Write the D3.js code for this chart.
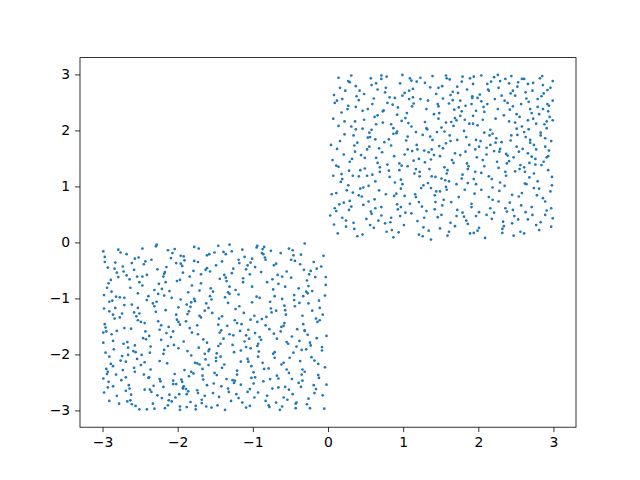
<!DOCTYPE html>
<html>
<head>
<meta charset="utf-8">
<script src="https://cdn.jsdelivr.net/npm/d3@7"></script>
<style>
  body { margin: 0; background: #fff; }
  svg { display: block; }
  .tick text { font-family: "DejaVu Sans", sans-serif; font-size: 13.9px; fill: #000; }
  .tick line { stroke: #000; stroke-width: 0.8; }
</style>
</head>
<body>
<div id="viz"></div>
<script>
const POINT_COLOR = "#1f77b4";

// Tick values for both axes
const xTicks = [-3, -2, -1, 0, 1, 2, 3];
const yTicks = [-3, -2, -1, 0, 1, 2, 3];

// Points in the lower-left square as [x, y]
const lowerPoints = [
  [-2.53,-1.17],[-0.42,-2.86],[-1.78,-0.33],[-2.91,-2.04],[-0.97,-1.62],[-1.24,-2.47],[-2.16,-0.71],[-0.08,-1.93],[-1.55,-2.95],[-2.72,-0.52],
  [-0.63,-0.19],[-1.89,-1.41],[-2.37,-2.63],[-0.29,-0.88],[-1.02,-2.21],[-2.84,-1.36],[-1.46,-0.06],[-0.81,-2.74],[-2.05,-1.83],[-1.67,-2.38],
  [-2.98,-0.94],[-0.15,-0.47],[-1.33,-1.08],[-2.61,-2.89],[-0.56,-1.29],[-1.92,-0.25],[-2.24,-2.12],[-0.74,-0.66],[-1.11,-1.77],[-2.45,-0.39],
  [-0.36,-2.58],[-1.59,-1.94],[-2.79,-0.13],[-0.91,-0.99],[-1.73,-2.69],[-2.12,-1.51],[-0.22,-2.05],[-1.38,-0.58],[-2.57,-2.31],[-0.68,-1.72],
  [-1.97,-2.93],[-2.88,-1.64],[-0.49,-0.31],[-1.16,-2.54],[-2.31,-0.85],[-0.05,-2.97],[-1.64,-1.22],[-2.69,-2.41],[-0.87,-0.12],[-1.42,-1.57],
  [-2.21,-2.78],[-0.33,-1.46],[-1.81,-0.77],[-2.95,-2.26],[-1.07,-0.41],[-0.59,-2.15],[-2.41,-1.03],[-1.29,-2.83],[-0.17,-0.62],[-2.66,-1.88],
  [-1.51,-0.18],[-0.77,-2.44],[-2.09,-1.69],[-2.83,-0.36],[-0.44,-1.14],[-1.86,-2.66],[-1.19,-0.93],[-2.48,-2.01],[-0.26,-2.79],[-1.63,-0.49],
  [-2.74,-1.27],[-0.94,-1.85],[-1.37,-2.99],[-2.18,-0.56],[-0.11,-1.39],[-1.71,-2.18],[-2.52,-0.27],[-0.66,-0.74],[-1.94,-2.49],[-2.99,-1.79],
  [-0.52,-2.33],[-1.26,-1.66],[-2.33,-2.88],[-0.85,-0.08],[-1.48,-1.98],[-2.63,-0.81],[-0.31,-1.58],[-1.99,-1.16],[-2.86,-2.57],[-1.04,-2.62],
  [-0.19,-0.35],[-1.76,-2.92],[-2.44,-1.44],[-0.71,-2.06],[-1.13,-0.64],[-2.27,-2.73],[-0.98,-1.31],[-1.58,-0.21],[-2.77,-0.98],[-0.39,-2.51],
  [-1.84,-1.53],[-2.93,-0.45],[-0.61,-1.01],[-1.21,-2.29],[-2.13,-0.14],[-0.02,-1.67],[-1.45,-2.76],[-2.56,-1.96],[-0.89,-0.53],[-1.69,-1.34],
  [-2.39,-2.42],[-0.46,-0.23],[-1.93,-2.59],[-2.71,-1.12],[-1.09,-1.87],[-0.24,-2.96],[-2.01,-0.69],[-1.34,-1.49],[-2.89,-2.17],[-0.79,-2.25],
  [-1.57,-0.96],[-2.22,-1.74],[-0.13,-2.37],[-1.01,-0.29],[-2.67,-2.84],[-0.57,-1.21],[-1.82,-2.02],[-2.47,-0.61],[-0.93,-2.68],[-1.31,-0.04],
  [-2.96,-1.52],[-0.35,-1.92],[-1.66,-2.45],[-2.11,-0.87],[-0.72,-1.63],[-1.47,-2.91],[-2.58,-1.25],[-0.09,-0.43],[-1.88,-1.11],[-2.32,-2.56],
  [-1.18,-0.37],[-0.54,-2.81],[-2.76,-2.11],[-1.61,-1.79],[-0.27,-0.91],[-2.04,-2.35],[-1.39,-0.17],[-2.92,-0.73],[-0.83,-1.48],[-1.74,-2.64],
  [-2.28,-1.06],[-0.67,-0.58],[-1.06,-2.13],[-2.51,-2.98],[-0.38,-1.76],[-1.91,-0.32],[-2.85,-1.91],[-1.23,-1.19],[-0.04,-2.23],[-2.15,-0.44],
  [-1.52,-2.52],[-0.88,-1.37],[-2.64,-0.66],[-1.98,-2.71],[-0.47,-0.14],[-1.27,-1.83],[-2.36,-2.27],[-0.73,-0.84],[-2.97,-0.26],[-1.62,-1.09],
  [-0.21,-1.22],[-2.43,-1.59],[-1.14,-2.86],[-0.62,-2.18],[-2.81,-2.74],[-1.79,-0.51],[-0.95,-0.97],[-2.19,-1.99],[-1.35,-2.44],[-0.31,-0.02],
  [-2.68,-0.59],[-1.44,-1.61],[-0.16,-2.62],[-2.26,-0.92],[-1.87,-1.28],[-0.78,-2.94],[-2.54,-2.08],[-1.09,-0.48],[-0.53,-1.81],[-2.02,-2.53],
  [-1.72,-0.11],[-2.94,-2.35],[-0.41,-1.55],[-1.31,-0.79],[-2.46,-1.71],[-0.99,-2.32],[-1.68,-2.87],[-2.83,-1.17],[-0.28,-0.68],[-2.07,-0.19],
  [-0.64,-2.99],[-1.43,-2.04],[-2.61,-0.37],[-1.97,-1.47],[-0.12,-1.04],[-2.35,-2.67],[-1.17,-1.58],[-0.84,-0.27],[-2.75,-2.46],[-1.53,-0.88],
  [-2.12,-2.82],[-0.37,-2.12],[-1.83,-1.15],[-2.99,-0.16],[-0.92,-1.95],[-1.28,-0.55],[-2.49,-1.42],[-0.57,-2.58],[-1.66,-1.73],[-2.21,-0.83],
  [-0.07,-2.73],[-1.94,-0.42],[-2.72,-1.81],[-1.41,-2.24],[-0.76,-1.18],[-2.29,-0.07],[-1.04,-2.92],[-2.87,-1.04],[-0.45,-0.94],[-1.77,-2.15],
  [-2.55,-1.32],[-0.23,-1.84],[-1.36,-0.63],[-2.03,-2.77],[-0.69,-0.38],[-1.81,-1.61],[-2.93,-2.31],[-1.12,-1.26],[-0.34,-2.47],[-2.41,-0.58],
  [-1.49,-2.06],[-0.81,-0.71],[-2.65,-2.55],[-1.96,-0.24],[-0.14,-1.42],[-1.22,-2.71],[-2.38,-1.67],[-0.58,-1.13],[-1.73,-0.35],[-2.78,-2.88],
  [-0.97,-2.41],[-2.16,-1.21],[-1.56,-0.82],[-0.43,-2.96],[-2.84,-0.47],[-1.05,-1.72],[-0.25,-0.57],[-1.91,-2.28],[-2.53,-0.91],[-0.71,-1.96],
  [-1.33,-2.61],[-2.62,-1.54],[-0.03,-0.76],[-1.78,-1.01],[-2.23,-2.48],[-0.86,-0.21],[-1.62,-2.93],[-2.97,-1.46],[-0.48,-1.68],[-1.19,-0.31],
  [-2.44,-2.14],[-0.32,-0.49],[-1.85,-2.39],[-2.08,-0.99],[-0.66,-2.43],[-1.45,-1.36],[-2.79,-0.62],[-0.18,-2.11],[-1.03,-1.89],[-2.31,-2.97],
  [-1.69,-0.73],[-0.55,-1.78],[-2.91,-1.23],[-1.25,-2.51],[-0.95,-0.09],[-2.18,-1.92],[-1.59,-2.19],[-0.38,-1.08],[-2.69,-2.65],[-1.93,-0.54],
  [-0.83,-2.83],[-2.57,-0.29],[-1.15,-1.46],[-0.02,-2.54],[-1.99,-1.89],[-2.86,-2.21],[-0.61,-0.61],[-1.37,-0.98],[-2.24,-1.56],[-0.29,-1.91],
  [-1.88,-2.71],[-2.47,-0.77],[-0.75,-1.25],[-1.51,-2.33],[-2.95,-1.59],[-0.44,-0.33],[-1.07,-2.08],[-2.13,-2.91],[-1.71,-1.31],[-0.21,-0.87],
  [-2.67,-1.78],[-1.28,-0.16],[-0.52,-2.63],[-2.01,-1.38],[-0.89,-1.74],[-1.61,-0.46],[-2.38,-2.41],[-0.11,-1.17],[-1.97,-2.99],[-2.82,-0.97],
  [-1.16,-1.93],[-0.34,-2.27],[-2.17,-0.53],[-1.46,-1.85],[-0.69,-2.86],[-2.74,-2.03],[-1.82,-1.07],[-0.97,-0.44],[-2.51,-1.27],[-0.06,-0.24],
  [-1.42,-2.57],[-2.89,-0.67],[-0.59,-1.49],[-1.74,-2.16],[-2.28,-0.04],[-1.01,-0.79],[-0.43,-2.88],[-2.59,-1.94],[-1.24,-1.39],[-1.89,-2.62],
  [-0.76,-0.15],[-2.06,-2.47],[-1.54,-1.26],[-2.98,-2.68],[-0.27,-1.65],[-1.35,-0.69],[-2.42,-1.73],[-0.85,-2.26],[-1.96,-0.38],[-2.63,-2.82],
  [-0.16,-1.36],[-1.64,-2.74],[-2.33,-1.09],[-1.11,-0.26],[-0.51,-2.06],[-2.77,-1.34],[-1.86,-0.89],[-0.73,-1.99],[-2.19,-2.58],[-1.39,-1.72],
  [-2.94,-0.81],[-0.99,-2.52],[-1.69,-0.57],[-0.33,-0.96],[-2.56,-2.92],[-1.21,-1.44],[-2.09,-0.28],[-0.62,-1.51],[-1.48,-2.37],[-2.73,-0.43],
  [-0.91,-1.69],[-1.77,-1.05],[-2.49,-2.19],[-0.08,-1.87],[-1.32,-2.67],[-2.25,-0.74],[-0.55,-0.52],[-1.95,-2.45],[-2.81,-1.58],[-1.03,-0.36],
  [-2.36,-1.86],[-0.47,-2.71],[-1.58,-1.91],[-2.04,-0.12],[-0.82,-1.33],[-2.92,-2.49],[-1.19,-2.78],[-0.26,-0.78],[-1.73,-1.64],[-2.61,-1.11],
  [-1.44,-0.65],[-0.68,-2.38],[-2.15,-1.62],[-1.83,-2.85],[-0.36,-0.22],[-2.71,-0.99],[-1.06,-1.56],[-1.63,-2.09],[-2.45,-2.36],[-0.13,-2.17],
  [-2.02,-1.29],[-0.94,-0.06],[-1.38,-2.18],[-2.86,-1.76],[-0.58,-1.44],[-1.92,-2.57],[-2.27,-0.48],[-0.79,-2.91],[-1.23,-0.85],[-2.58,-2.24],
  [-0.45,-1.03],[-1.79,-2.34],[-2.98,-1.18],[-1.09,-1.66],[-0.18,-2.69],[-2.43,-0.34],[-1.55,-1.02],[-0.72,-0.41],[-2.11,-2.72],[-1.27,-2.46],
  [-2.76,-0.18],[-0.31,-1.57],[-1.68,-2.81],[-2.22,-1.48],[-0.87,-2.15],[-1.49,-0.41],[-2.64,-2.61],[-0.04,-0.95],[-1.99,-1.42],[-1.14,-0.13],
  [-0.66,-2.59],[-2.37,-1.97],[-1.31,-0.92],[-2.91,-2.83],[-0.49,-0.63],[-1.85,-1.23],[-1.02,-2.42],[-2.54,-0.61],[-0.24,-1.79],[-1.76,-2.98],
  [-2.18,-0.95],[-0.93,-1.81],[-1.41,-1.32],[-2.69,-2.13],[-0.35,-2.36],[-1.61,-0.23],[-2.99,-1.61],[-0.77,-1.06],[-2.06,-2.53],[-1.26,-0.47],
  [-2.47,-0.11],[-0.12,-2.42],[-1.87,-1.94],[-1.04,-0.57],[-2.82,-2.36],[-0.63,-1.59],[-1.53,-2.69],[-2.26,-1.41],[-0.39,-0.82],[-1.97,-0.67],
  [-2.62,-2.72],[-1.18,-1.14],[-0.28,-2.89],[-1.71,-0.86],[-2.96,-1.97],[-0.83,-0.31],[-2.14,-2.16],[-1.43,-1.81],[-0.55,-2.27],[-2.35,-0.31],
  [-1.09,-2.95],[-2.71,-1.53],[-0.07,-1.29],[-1.61,-2.55],[-2.19,-0.61],[-0.94,-1.42],[-1.36,-0.21],[-2.88,-0.88],[-0.46,-1.97],[-1.82,-2.31],
  [-2.41,-2.98],[-0.71,-0.96],[-1.25,-1.96],[-2.02,-0.37],[-0.19,-2.55],[-1.59,-1.17],[-2.57,-1.84],[-0.98,-2.77],[-1.78,-0.08],[-2.93,-2.59],
  [-0.34,-1.31],[-1.49,-2.12],[-2.29,-1.24],[-0.86,-2.48],[-2.68,-0.21],[-1.13,-0.71],[-0.52,-0.11],[-1.92,-1.77],[-2.44,-2.63],[-0.23,-0.51],
  [-1.67,-2.26],[-2.81,-0.54],[-0.61,-2.93],[-1.31,-1.64],[-2.08,-2.84],[-0.42,-1.86],[-2.53,-1.39],[-1.01,-1.07],[-1.84,-0.61],[-2.99,-2.43],
  [-0.15,-1.71],[-1.41,-0.34],[-2.24,-2.44],[-0.78,-1.55],[-1.96,-1.02],[-2.66,-2.01],[-1.21,-2.36],[-0.57,-0.79],[-2.39,-0.96],[-1.74,-1.48],
  [-0.93,-2.04],[-2.86,-1.29],[-1.57,-0.52],[-0.31,-2.31],[-2.13,-1.85],[-1.07,-2.67],[-2.51,-0.71],[-0.69,-1.22],[-1.88,-2.94],[-0.03,-0.62],
  [-2.73,-2.28],[-1.33,-0.89],[-0.48,-2.44],[-2.06,-1.59],[-1.64,-1.99],[-2.97,-0.35],[-0.88,-0.19],[-1.16,-2.13],[-2.31,-1.14],[-0.26,-1.09],
  [-1.93,-2.61],[-2.58,-0.49],[-0.74,-2.61],[-1.46,-1.47],[-2.17,-2.96],[-0.37,-0.39],[-1.72,-1.88],[-2.91,-1.06],[-1.03,-1.38],[-0.59,-2.77]
];

// Points in the upper-right square as [x, y]
const upperPoints = [
  [0.42,2.71],[1.86,0.33],[2.54,1.62],[0.17,1.08],[1.23,2.94],[2.91,0.57],[0.78,0.19],[1.57,1.77],[2.26,2.38],[0.95,1.41],
  [2.73,2.85],[0.31,0.64],[1.44,0.91],[2.08,1.96],[0.66,2.27],[1.92,2.61],[2.47,0.12],[0.09,2.49],[1.15,1.23],[2.84,1.38],
  [0.53,1.87],[1.71,0.47],[2.36,2.92],[0.88,0.83],[1.29,2.15],[2.62,1.05],[0.24,0.28],[1.98,1.52],[2.95,2.24],[0.71,2.98],
  [1.37,0.05],[2.19,0.76],[0.12,1.67],[1.83,2.44],[2.58,2.07],[0.47,0.98],[1.06,1.89],[2.77,0.31],[0.99,2.62],[1.64,0.72],
  [2.41,1.45],[0.36,2.16],[1.52,2.79],[2.89,1.86],[0.81,1.28],[1.19,0.38],[2.13,2.73],[0.58,0.51],[1.78,1.14],[2.67,2.51],
  [0.05,0.86],[1.41,1.56],[2.32,0.24],[0.93,2.41],[1.67,2.08],[2.98,1.17],[0.27,2.88],[1.09,0.69],[2.51,1.71],[1.94,0.17],
  [0.64,1.51],[2.71,2.31],[1.33,2.53],[0.19,0.44],[2.04,1.24],[1.58,0.94],[0.87,2.04],[2.44,2.97],[1.12,1.63],[2.86,0.79],
  [0.39,0.11],[1.76,2.26],[2.27,1.33],[0.75,1.79],[1.49,0.25],[2.63,2.68],[0.14,1.35],[1.91,0.63],[0.96,2.84],[2.15,1.91],
  [1.27,1.02],[2.53,0.41],[0.61,2.57],[1.85,1.41],[2.92,2.47],[0.33,1.19],[1.03,0.53],[2.39,1.55],[1.62,2.91],[0.83,0.36],
  [2.06,2.19],[0.22,1.93],[1.39,1.83],[2.81,0.96],[0.54,0.73],[1.73,2.67],[2.49,1.27],[0.97,1.12],[1.21,0.14],[2.67,2.02],
  [0.46,2.35],[1.95,0.87],[2.22,2.56],[0.11,0.56],[1.55,1.34],[2.96,2.76],[0.72,1.61],[1.31,2.38],[2.57,0.66],[1.81,1.99],
  [0.29,1.44],[2.43,1.82],[1.08,2.71],[2.76,1.49],[0.85,0.22],[1.61,1.09],[2.11,0.49],[0.58,2.01],[1.46,2.47],[2.88,2.11],
  [1.17,0.81],[0.07,2.21],[1.89,2.93],[2.35,1.01],[0.69,1.26],[2.61,0.16],[1.42,0.59],[0.37,2.79],[2.01,1.71],[2.93,1.54],
  [0.91,1.95],[1.69,0.29],[2.55,2.24],[0.25,0.93],[1.13,2.59],[2.21,1.63],[0.51,0.42],[1.97,2.35],[2.82,2.93],[1.35,1.31],
  [2.45,0.85],[0.76,2.68],[1.53,1.68],[2.99,0.43],[0.16,1.81],[1.24,0.97],[2.17,2.87],[0.63,1.09],[1.79,0.53],[2.69,1.78],
  [0.34,0.35],[1.88,2.12],[2.31,2.62],[1.02,1.57],[0.57,2.93],[2.74,1.23],[1.47,2.21],[0.21,0.71],[2.09,0.08],[1.66,2.54],
  [2.86,2.38],[0.93,0.59],[1.18,1.74],[2.52,1.92],[0.44,1.56],[1.74,0.81],[2.25,1.44],[0.08,2.63],[1.36,2.77],[2.97,0.28],
  [0.68,0.93],[2.12,2.47],[1.59,0.12],[0.31,2.07],[2.66,2.83],[1.05,2.31],[1.96,1.26],[2.38,0.55],[0.84,1.73],[1.28,0.44],
  [2.59,1.67],[0.13,0.16],[1.51,2.05],[2.91,2.16],[0.79,2.49],[1.83,1.62],[2.28,0.92],[0.49,1.32],[1.11,2.89],[2.71,0.63],
  [1.65,1.47],[0.38,2.61],[2.46,2.71],[1.01,0.31],[2.03,1.81],[0.62,0.77],[1.43,1.17],[2.83,1.96],[0.18,1.22],[1.93,2.83],
  [2.33,0.37],[0.98,1.37],[1.71,2.18],[2.64,2.57],[0.56,1.88],[1.25,0.64],[2.18,1.13],[0.03,0.48],[1.57,2.98],[2.94,1.64],
  [0.87,0.09],[2.51,2.29],[1.37,1.48],[0.27,2.44],[1.84,0.39],[2.79,1.09],[1.07,2.13],[2.14,2.71],[0.66,1.42],[1.62,1.91],
  [2.42,0.71],[0.45,0.82],[1.99,2.58],[2.87,2.66],[1.19,1.66],[0.74,2.36],[2.24,1.86],[1.54,0.76],[0.14,2.94],[2.68,1.42],
  [1.31,2.04],[2.56,0.19],[0.35,1.73],[1.79,1.21],[2.99,2.53],[0.92,0.68],[2.07,2.42],[1.44,2.65],[0.61,0.26],[2.37,1.58],
  [1.72,0.58],[0.19,1.13],[2.61,1.97],[1.14,2.48],[2.29,2.88],[0.52,1.66],[1.87,1.36],[2.78,0.84],[0.98,2.17],[1.49,0.91],
  [2.16,2.01],[0.71,0.48],[1.26,1.92],[2.93,1.29],[0.41,2.54],[1.68,2.37],[2.48,0.47],[0.06,1.47],[1.94,2.96],[2.73,2.21],
  [0.82,1.17],[1.46,0.45],[2.23,1.78],[0.28,0.58],[1.97,1.04],[2.84,2.61],[1.09,2.93],[0.64,2.11],[2.55,1.31],[1.38,1.66],
  [2.01,0.26],[0.55,1.96],[1.76,2.53],[2.46,2.43],[0.97,0.63],[2.89,0.73],[1.21,1.49],[0.23,2.71],[1.63,0.35],[2.34,2.27],
  [0.73,2.34],[2.68,1.16],[1.34,0.21],[0.11,1.37],[2.12,2.83],[1.55,1.98],[2.77,2.12],[0.88,1.54],[1.91,0.69],[0.43,0.96],
  [2.52,2.78],[1.22,1.26],[0.35,0.24],[1.69,1.59],[2.97,1.81],[0.77,2.76],[2.19,0.98],[1.47,2.43],[0.59,1.21],[2.63,0.54],
  [1.04,1.82],[2.43,2.66],[0.18,2.32],[1.82,0.94],[2.71,1.53],[0.67,0.39],[1.29,2.85],[2.06,1.47],[0.48,2.19],[1.59,1.29],
  [2.91,2.04],[0.94,0.18],[1.63,2.63],[2.27,0.73],[0.32,1.49],[1.93,2.26],[2.56,1.38],[1.16,0.86],[0.78,2.96],[2.39,2.49],
  [0.15,0.68],[1.48,1.72],[2.83,0.36],[0.69,1.34],[2.04,2.52],[1.32,2.02],[2.61,2.92],[0.46,0.14],[1.72,1.83],[2.98,1.02],
  [1.11,0.52],[2.29,1.67],[0.86,2.46],[1.57,0.99],[2.66,2.18],[0.39,1.78],[1.99,0.21],[2.42,2.37],[0.95,1.29],[1.85,2.73],
  [2.74,0.97],[0.29,2.86],[1.41,2.29],[2.14,1.18],[0.63,0.61],[1.78,2.87],[2.89,1.71],[1.06,1.36],[0.21,1.57],[2.32,0.17],
  [1.64,2.15],[0.54,1.01],[2.47,1.52],[1.23,2.56],[0.08,0.32],[1.96,1.66],[2.79,2.42],[0.81,1.84],[1.52,0.66],[2.21,2.95],
  [0.43,1.29],[2.01,0.54],[2.85,2.97],[1.33,1.06],[0.73,2.14],[2.58,0.88],[1.67,1.42],[0.26,2.38],[1.93,2.12],[2.36,1.26],
  [1.02,2.67],[2.69,1.83],[0.57,0.55],[1.78,2.34],[2.16,0.61],[0.37,2.02],[1.38,1.18],[2.92,2.72],[0.91,0.87],[1.61,2.48],
  [2.28,1.62],[0.12,2.53],[1.86,1.06],[2.53,2.86],[0.68,1.68],[1.27,0.27],[2.76,1.39],[0.48,2.65],[1.45,1.97],[2.08,2.33],
  [0.84,0.44],[2.41,2.16],[1.17,1.31],[2.97,0.61],[0.33,0.89],[1.69,2.22],[2.26,2.99],[0.99,1.04],[1.88,1.74],[2.64,1.04],
  [0.59,2.47],[1.42,0.84],[2.19,1.94],[0.04,1.74],[1.74,2.41],[2.81,2.29],[1.28,1.64],[0.76,0.34],[2.49,2.62],[1.97,0.47],
  [2.63,1.88],[0.41,1.18],[1.58,2.93],[2.34,0.29],[0.92,1.98],[1.13,2.74],[2.87,1.44],[0.29,0.74],[2.11,1.57],[1.51,1.14],
  [0.71,2.92],[2.57,2.47],[1.81,0.46],[0.22,2.16],[2.38,1.41],[1.36,1.89],[0.97,0.96],[2.93,2.34],[1.72,2.78],[0.55,1.71],
  [2.14,0.81],[1.03,2.22],[2.74,1.74],[0.36,1.62],[1.92,2.58],[2.45,0.34],[0.64,2.84],[1.49,1.54],[2.99,2.88],[1.21,0.72],
  [0.16,2.76],[1.86,1.31],[2.66,0.41],[0.89,2.58],[1.57,2.14],[2.31,1.79],[0.47,0.67],[2.04,0.94],[1.11,2.07],[2.79,2.56],
  [2.58,2.92],[0.27,1.02],[1.84,1.88],[0.96,0.47],[2.36,0.61],[1.53,2.57],[0.62,2.24],[2.91,1.52],[1.17,1.97],[0.09,0.61],
  [1.39,2.97],[2.72,0.49],[0.49,1.51],[2.08,1.36],[1.61,0.19],[0.82,2.59],[2.44,1.91],[1.22,1.18],[0.31,2.98],[2.94,2.44],
  [0.77,0.86],[1.91,2.47],[2.62,1.26],[0.14,2.08],[1.43,0.72],[2.27,2.76],[1.06,1.66],[0.56,0.31],[2.83,1.91],[1.79,2.96],
  [2.18,0.42],[0.37,2.42],[1.58,1.23],[2.49,2.14],[0.87,1.94],[1.26,0.11],[2.96,0.91],[0.66,2.73],[1.97,1.83],[2.41,2.84],
  [1.12,2.43],[0.24,0.39],[2.69,2.38],[1.71,1.04],[0.52,1.19],[2.02,2.64],[1.34,1.61],[2.81,0.22],[0.92,2.28],[1.48,2.31],
  [2.29,1.07],[0.07,1.19],[1.66,2.69],[2.54,0.82],[0.79,1.39],[1.89,0.16],[2.99,2.18],[0.41,0.84],[1.18,2.87],[2.11,1.69],
  [0.58,2.81],[2.35,2.53],[1.02,0.83],[1.76,1.56],[2.66,1.59],[0.19,2.56],[1.51,0.49],[2.23,2.21],[0.89,1.07],[2.86,2.81],
  [1.63,1.81],[0.34,1.91],[2.46,0.58],[1.29,1.43],[0.71,0.63],[2.04,2.98],[2.77,1.66],[1.08,2.56],[0.46,2.03],[1.94,1.13],
  [2.51,2.03],[0.99,2.99],[1.37,0.97],[2.16,1.74],[0.28,1.28],[1.82,2.19],[2.89,0.49],[0.63,1.84],[1.47,2.76],[2.37,1.19],
  [0.84,2.11],[2.72,2.71],[1.56,1.11],[0.11,0.88],[2.21,0.53],[1.14,1.46],[1.99,2.09],[0.53,2.38],[2.61,1.34],[1.31,0.56]
];

const width = 640;
const height = 480;
const margin = { top: 57.6, right: 64, bottom: 52.8, left: 80 };

const svg = d3.select("#viz")
  .append("svg")
  .attr("width", width)
  .attr("height", height);

svg.append("rect")
  .attr("width", width)
  .attr("height", height)
  .attr("fill", "#fff");

// Same 5% padding matplotlib adds around the data
const x = d3.scaleLinear()
  .domain([-3.3, 3.3])
  .range([margin.left, width - margin.right]);

const y = d3.scaleLinear()
  .domain([-3.3, 3.3])
  .range([height - margin.bottom, margin.top]);

const fmt = d => (d < 0 ? "\u2212" + Math.abs(d) : String(d));

// Points
const allPoints = lowerPoints.concat(upperPoints);
svg.append("g")
  .selectAll("circle")
  .data(allPoints)
  .join("circle")
  .attr("cx", d => x(d[0]))
  .attr("cy", d => y(d[1]))
  .attr("r", 1.35)
  .attr("fill", POINT_COLOR);

// Axes
const xAxis = svg.append("g")
  .attr("transform", `translate(0,${height - margin.bottom})`)
  .call(d3.axisBottom(x).tickValues(xTicks).tickFormat(fmt).tickSize(4.9).tickPadding(4.9));

const yAxis = svg.append("g")
  .attr("transform", `translate(${margin.left},0)`)
  .call(d3.axisLeft(y).tickValues(yTicks).tickFormat(fmt).tickSize(4.9).tickPadding(4.9));

[xAxis, yAxis].forEach(g => g.select(".domain").remove());

// Frame around the plot area
svg.append("rect")
  .attr("x", margin.left)
  .attr("y", margin.top)
  .attr("width", width - margin.left - margin.right)
  .attr("height", height - margin.top - margin.bottom)
  .attr("fill", "none")
  .attr("stroke", "#000")
  .attr("stroke-width", 0.8);
</script>
</body>
</html>
